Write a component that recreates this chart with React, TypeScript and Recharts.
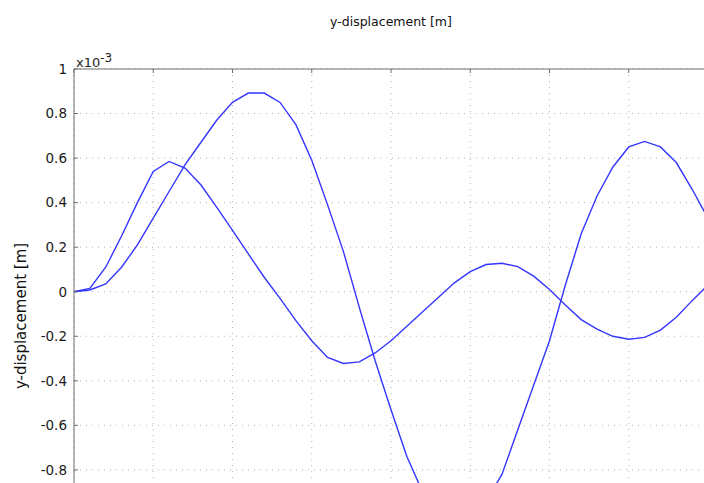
import { LineChart, Line, XAxis, YAxis, CartesianGrid } from "recharts"

// time samples (x axis has no visible labels, step 0.2)
const time = [
  0, 0.2, 0.4, 0.6, 0.8, 1, 1.2, 1.4, 1.6, 1.8, 2, 2.2, 2.4, 2.6, 2.8, 3, 3.2, 3.4, 3.6, 3.8, 4,
  4.2, 4.4, 4.6, 4.8, 5, 5.2, 5.4, 5.6, 5.8, 6, 6.2, 6.4, 6.6, 6.8, 7, 7.2, 7.4, 7.6, 7.8, 8,
]

// y-displacement, units of 1e-3 m
const pointA = [
  0, 0.015, 0.11, 0.25, 0.4, 0.54, 0.585, 0.555, 0.48, 0.38, 0.275, 0.17, 0.065, -0.03, -0.13,
  -0.22, -0.295, -0.322, -0.315, -0.275, -0.22, -0.155, -0.09, -0.025, 0.04, 0.09, 0.122, 0.128,
  0.113, 0.07, 0.01, -0.06, -0.125, -0.168, -0.2, -0.213, -0.205, -0.172, -0.115, -0.04, 0.03,
]

const pointB = [
  0, 0.008, 0.035, 0.11, 0.21, 0.33, 0.45, 0.57, 0.67, 0.77, 0.85, 0.892, 0.892, 0.85, 0.75,
  0.59, 0.39, 0.18, -0.07, -0.31, -0.53, -0.74, -0.9, -1.01, -1.05, -1.03, -0.94, -0.82, -0.62,
  -0.42, -0.22, 0.03, 0.26, 0.43, 0.56, 0.65, 0.675, 0.65, 0.58, 0.46, 0.33,
]

const xTicks = [0, 1, 2, 3, 4, 5, 6, 7, 8]
// only the ticks that fall inside the visible window
const yTicks = [-0.8, -0.6, -0.4, -0.2, 0, 0.2, 0.4, 0.6, 0.8, 1]

const title = "y-displacement [m]"
const yLabel = "y-displacement [m]"

const data = time.map((t, i) => ({ t, a: pointA[i], b: pointB[i] }))

const font = "'DejaVu Sans', Verdana, sans-serif"

export default function App() {
  return (
    <div
      style={{
        position: "fixed",
        left: 0,
        top: 0,
        width: 704,
        height: 483,
        overflow: "hidden",
        background: "#fff",
        fontFamily: font,
      }}
    >
      <div
        style={{
          position: "absolute",
          left: 241,
          width: 300,
          top: 14,
          textAlign: "center",
          fontSize: 12.5,
          color: "#111",
        }}
      >
        {title}
      </div>
      <div style={{ position: "absolute", left: 76, top: 51, fontSize: 13, color: "#222" }}>
        x10<sup style={{ fontSize: 12 }}>-3</sup>
      </div>
      <LineChart
        width={728}
        height={580}
        data={data}
        margin={{ top: 39, right: 20, bottom: 21, left: 0 }}
        style={{ position: "absolute", left: 0, top: 0 }}
      >
        <CartesianGrid stroke="#b4b4b4" strokeDasharray="1 5" />
        <XAxis
          dataKey="t"
          type="number"
          orientation="top"
          height={30}
          domain={[0, 8]}
          ticks={xTicks}
          interval={0}
          tickFormatter={() => ""}
          tickSize={-4}
          stroke="#6e6e6e"
        />
        <YAxis
          type="number"
          width={74}
          domain={[-1.2, 1]}
          ticks={yTicks}
          interval={0}
          tickSize={-4}
          tickMargin={11}
          stroke="#6e6e6e"
          tick={{ fill: "#1a1a1a", fontSize: 13.5, fontFamily: font }}
          label={{
            content: ({ viewBox }: any) => {
              const cx = 21
              const cy = viewBox.y + viewBox.height / 2 + 2
              return (
                <text
                  x={cx}
                  y={cy}
                  transform={`rotate(-90 ${cx} ${cy})`}
                  textAnchor="middle"
                  dominantBaseline="central"
                  fontSize={15}
                  fontFamily={font}
                  fill="#111"
                >
                  {yLabel}
                </text>
              )
            },
          }}
        />
        <Line dataKey="a" type="linear" stroke="#3535ff" strokeWidth={1.4} dot={false} isAnimationActive={false} />
        <Line dataKey="b" type="linear" stroke="#3535ff" strokeWidth={1.4} dot={false} isAnimationActive={false} />
      </LineChart>
    </div>
  )
}
